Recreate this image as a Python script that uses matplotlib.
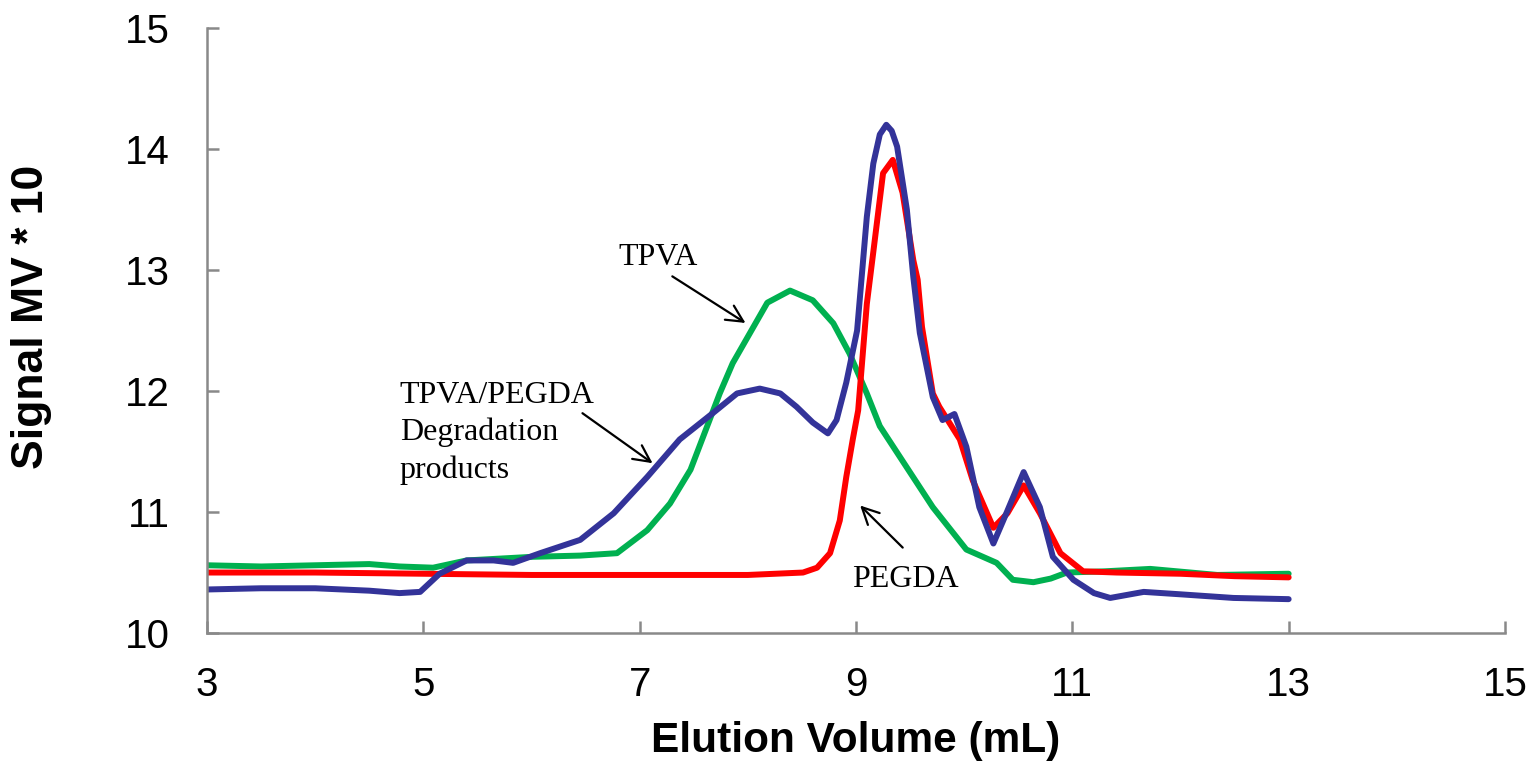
import matplotlib.pyplot as plt

# PEGDA (red)
pegda_x = [3.0, 4.0, 5.0, 6.0, 7.0, 8.0, 8.51, 8.64, 8.76, 8.85, 8.91, 8.97, 9.02, 9.05, 9.1, 9.16,
           9.25, 9.34, 9.43, 9.53, 9.57, 9.61, 9.71, 9.77, 9.96, 10.08, 10.27, 10.4, 10.55, 10.7,
           10.89, 11.1, 11.41, 12.0, 12.5, 13.0]
pegda_y = [10.50, 10.50, 10.49, 10.48, 10.48, 10.48, 10.50, 10.54, 10.66, 10.93, 11.29, 11.6, 11.84,
           12.17, 12.72, 13.15, 13.8, 13.91, 13.64, 13.08, 12.92, 12.53, 11.98, 11.87, 11.6, 11.26,
           10.87, 10.99, 11.22, 10.99, 10.66, 10.51, 10.50, 10.49, 10.47, 10.46]

# TPVA (green)
tpva_x = [3.0, 3.5, 4.0, 4.5, 4.78, 5.09, 5.4, 6.01, 6.45, 6.79, 7.07, 7.28, 7.47, 7.62, 7.74, 7.86,
          8.02, 8.18, 8.39, 8.6, 8.79, 8.94, 9.1, 9.22, 9.41, 9.71, 10.02, 10.3, 10.45, 10.64, 10.8,
          10.95, 11.3, 11.72, 12.34, 13.0]
tpva_y = [10.56, 10.55, 10.56, 10.57, 10.55, 10.54, 10.6, 10.63, 10.64, 10.66, 10.85, 11.07, 11.35,
          11.7, 11.98, 12.23, 12.48, 12.73, 12.83, 12.75, 12.56, 12.31, 11.98, 11.71, 11.45, 11.04,
          10.69, 10.58, 10.44, 10.42, 10.45, 10.5, 10.51, 10.53, 10.48, 10.49]

# TPVA/PEGDA degradation products (blue)
deg_x = [3.0, 3.5, 4.0, 4.5, 4.78, 4.97, 5.15, 5.4, 5.65, 5.83, 6.08, 6.45, 6.76, 7.07, 7.37, 7.68,
         7.9, 8.11, 8.3, 8.45, 8.6, 8.74, 8.82, 8.91, 9.01, 9.1, 9.16, 9.22, 9.28, 9.33, 9.38, 9.47,
         9.53, 9.59, 9.71, 9.8, 9.91, 10.02, 10.14, 10.27, 10.39, 10.55, 10.7, 10.82, 11.01, 11.2,
         11.35, 11.66, 12.0, 12.49, 13.0]
deg_y = [10.36, 10.37, 10.37, 10.35, 10.33, 10.34, 10.49, 10.6, 10.6, 10.58, 10.66, 10.77, 10.99,
         11.29, 11.6, 11.82, 11.98, 12.02, 11.98, 11.87, 11.74, 11.65, 11.76, 12.07, 12.5, 13.44,
         13.88, 14.12, 14.2, 14.15, 14.02, 13.5, 12.94, 12.48, 11.95, 11.76, 11.81, 11.54, 11.04,
         10.74, 10.99, 11.33, 11.04, 10.63, 10.44, 10.33, 10.29, 10.34, 10.32, 10.29, 10.28]

axis_gray = '#898989'

fig = plt.figure(figsize=(15.36, 7.65), dpi=100)
ax = fig.add_axes([0.1348, 0.1725, 0.845, 0.7909])

lw = 4.3
ax.plot(tpva_x, tpva_y, color='#00B050', lw=lw, solid_capstyle='round', solid_joinstyle='round')
ax.plot(pegda_x, pegda_y, color='#FF0000', lw=lw, solid_capstyle='round', solid_joinstyle='round')
ax.plot(deg_x, deg_y, color='#333399', lw=lw, solid_capstyle='round', solid_joinstyle='round')

ax.set_xlim(3, 15)
ax.set_ylim(10, 15)
ax.set_xticks([3, 5, 7, 9, 11, 13, 15])
ax.set_yticks([10, 11, 12, 13, 14, 15])

for side in ['top', 'right']:
    ax.spines[side].set_visible(False)
for side in ['left', 'bottom']:
    ax.spines[side].set_color(axis_gray)
    ax.spines[side].set_linewidth(1.8)

ax.tick_params(axis='x', direction='in', length=8.5, width=1.8, color=axis_gray,
               labelsize=29, pad=24)
ax.tick_params(axis='y', direction='in', length=8.5, width=1.8, color=axis_gray,
               labelsize=29, pad=27)
for lab in ax.get_xticklabels() + ax.get_yticklabels():
    lab.set_fontfamily('Liberation Sans')

ax.set_xlabel('Elution Volume (mL)', fontsize=30.5, fontweight='bold',
              family='Liberation Sans', labelpad=12)
ax.set_ylabel('Signal MV * 10', fontsize=32, fontweight='bold', family='Liberation Sans')
ax.yaxis.set_label_coords(-0.1194, 0.522)

serif = 'Liberation Serif'
arrow = dict(arrowstyle='->', color='black', lw=1.6, mutation_scale=30)

ax.annotate('', xy=(8.0, 12.55), xytext=(7.28, 12.96), arrowprops=arrow)
ax.text(6.80, 13.10, 'TPVA', fontsize=23, family=serif, va='center', ha='left')

ax.annotate('', xy=(7.14, 11.39), xytext=(6.45, 11.83), arrowprops=arrow)
ax.text(4.78, 12.08, 'TPVA/PEGDA\nDegradation\nproducts', fontsize=23, family=serif,
        va='top', ha='left', linespacing=1.34)

ax.annotate('', xy=(9.02, 11.07), xytext=(9.45, 10.69), arrowprops=arrow)
ax.text(8.96, 10.44, 'PEGDA', fontsize=23, family=serif, va='center', ha='left')

fig.savefig('out.png', dpi=100)
